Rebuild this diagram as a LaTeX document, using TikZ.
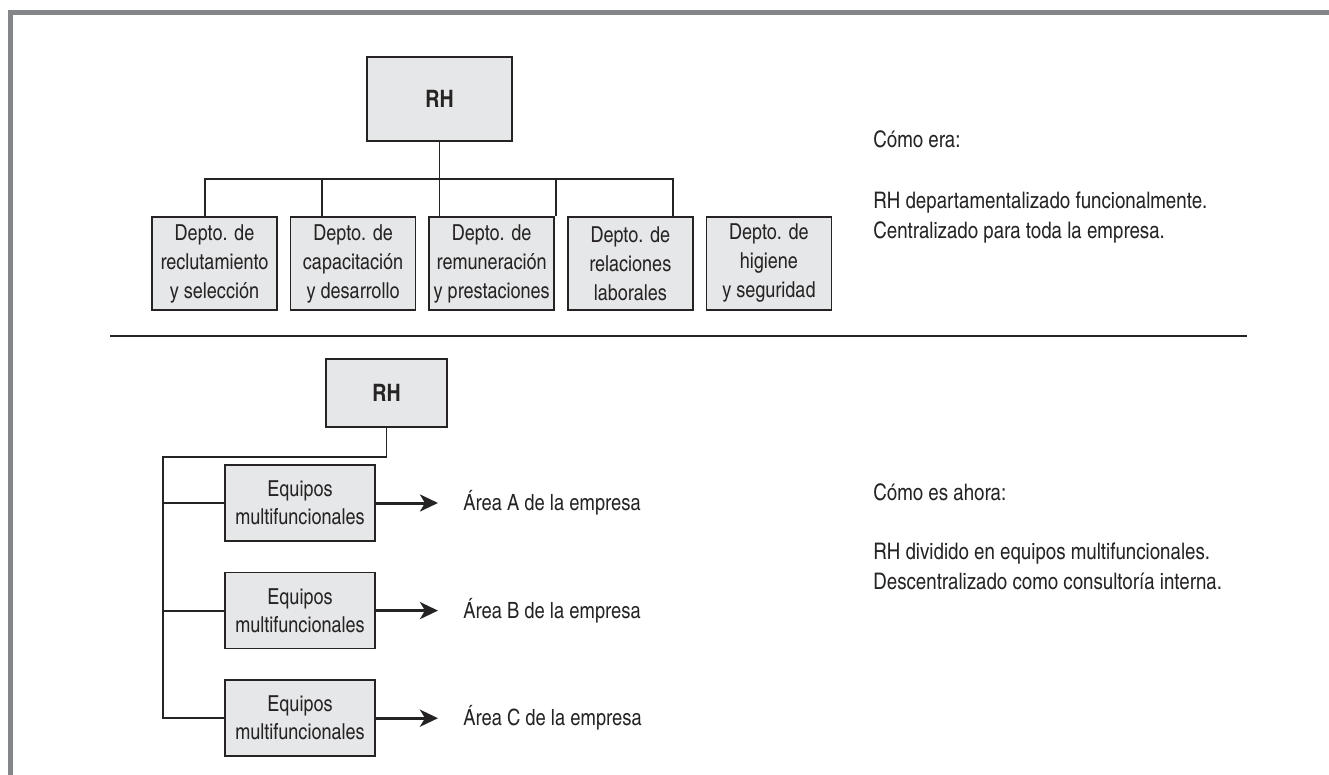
\documentclass[tikz,border=0pt]{standalone}
\usepackage{fontspec}
\setmainfont{texgyreheroscn}[Extension=.otf, UprightFont=*-regular, BoldFont=*-bold]
\usepackage{xcolor}
\usetikzlibrary{positioning,arrows.meta}
\definecolor{boxgray}{HTML}{E6E7E8}
\definecolor{framegray}{HTML}{858689}
\definecolor{ink}{HTML}{262324}

\begin{document}
\begin{tikzpicture}[
  x=0.5pt, y=-0.5pt,
  font=\fontsize{11.2}{14.5}\selectfont, text=ink,
  box/.style  = {draw=ink, line width=0.8pt, fill=boxgray, align=center, inner sep=0pt},
  head/.style = {box, font=\fontsize{12}{14}\selectfont\bfseries},
  dept/.style = {box, minimum width=62.5pt, minimum height=46.5pt,
                 font=\fontsize{11}{14.5}\selectfont},
  team/.style = {box, minimum width=75pt, minimum height=38pt,
                 font=\fontsize{11}{14}\selectfont},
  note/.style = {anchor=base west, inner sep=0pt, align=left,
                 font=\fontsize{11.4}{15}\selectfont},
  link/.style = {draw=ink, line width=0.9pt},
  flow/.style = {draw=ink, line width=1.5pt, shorten >=12.5pt,
                 -{Stealth[length=9pt, width=8.5pt, inset=2.5pt]}},
]

\useasboundingbox (0,0) rectangle (1329,775);
\draw[framegray, line width=2.5pt] (10.5,775) -- (10.5,12.5) -- (1329,12.5);

% ---------- como era ----------
\node[head, minimum width=72.5pt, minimum height=42pt] (rhA) at (439.5,99) {RH};
\node[dept] (d1) at (214.5,263.5) {Depto. de\\reclutamiento\\y selecci\'on};
\node[dept, right=6pt of d1] (d2) {Depto. de\\capacitaci\'on\\y desarrollo};
\node[dept, right=6pt of d2] (d3) {Depto. de\\remuneraci\'on\\y prestaciones};
\node[dept, right=6pt of d3] (d4) {Depto. de\\relaciones\\laborales};
\node[dept, right=6pt of d4] (d5) {Depto. de\\higiene\\y seguridad};

\foreach \i/\x in {1/205,2/322,3/439.5,4/556,5/673}
  \coordinate (b\i) at (\x,179);
\draw[link] (rhA.south) -- (b3);
\draw[link] (b1 |- d1.north) -- (b1) -- (b5) -- (b5 |- d4.north);
\foreach \i/\n in {2/d2,3/d3,4/d3}
  \draw[link] (b\i) -- (b\i |- \n.north);

\node[note] (eraT) at (873,148) {C\'omo era:};
\node[note] (eraB) at (873,239) {RH departamentalizado funcionalmente.\\
                                 Centralizado para toda la empresa.};

\draw[ink, line width=1pt] (110,336) -- (1247,336);

% ---------- como es ahora ----------
\node[head, minimum width=60.5pt, minimum height=34pt] (rhB) at (386.5,393) {RH};
\node[team] (eqA) at (300,503) {Equipos\\multifuncionales};
\node[team, below=15pt of eqA] (eqB) {Equipos\\multifuncionales};
\node[team, below=15pt of eqB] (eqC) {Equipos\\multifuncionales};

\coordinate (trunk) at (163,457);
\draw[link] (rhB.south) -- (rhB.south |- trunk) -- (trunk)
            -- (trunk |- eqC.west) -- (eqC.west);
\draw[link] (trunk |- eqA.west) -- (eqA.west);
\draw[link] (trunk |- eqB.west) -- (eqB.west);

\node[anchor=west, inner sep=0pt] (arA) at (463,503) {\'Area A de la empresa};
\node[anchor=west, inner sep=0pt] (arB) at (arA.west |- eqB) {\'Area B de la empresa};
\node[anchor=west, inner sep=0pt] (arC) at (arA.west |- eqC) {\'Area C de la empresa};
\draw[flow] (eqA) -- (arA.west);
\draw[flow] (eqB) -- (arB.west);
\draw[flow] (eqC) -- (arC.west);

\node[note] (ahoraT) at (873,501) {C\'omo es ahora:};
\node[note] (ahoraB) at (873,589) {RH dividido en equipos multifuncionales.\\
                                   Descentralizado como consultor\'ia interna.};

\end{tikzpicture}
\end{document}
